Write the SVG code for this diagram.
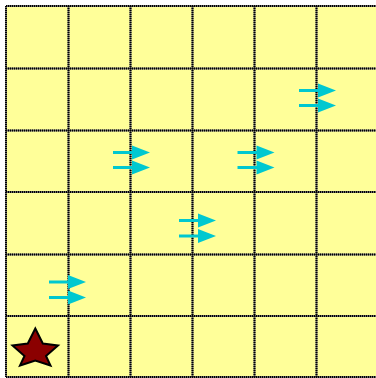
<svg xmlns="http://www.w3.org/2000/svg" xmlns:xlink="http://www.w3.org/1999/xlink" width="376" height="378" viewBox="0 0 376 378">
<style>
.grid{stroke:#6a6a6a;stroke-width:2}
.grid2{stroke:#000;stroke-width:2;stroke-dasharray:1 1}
.shaft{stroke:#00c8d0;stroke-width:3}
.head{fill:#00c8d0}
</style>
<defs>
<g id="arr"><line class="shaft" x1="-17" y1="0" x2="4" y2="0"/><polygon class="head" points="2,-7 20,0 2,7"/></g>
<g id="lines">
<line x1="6" y1="6" x2="6" y2="377"/>
<line x1="68.5" y1="6" x2="68.5" y2="377"/>
<line x1="130.5" y1="6" x2="130.5" y2="377"/>
<line x1="192.5" y1="6" x2="192.5" y2="377"/>
<line x1="254.5" y1="6" x2="254.5" y2="377"/>
<line x1="316.5" y1="6" x2="316.5" y2="377"/>
<line x1="6" y1="6" x2="378" y2="6"/>
<line x1="6" y1="68.5" x2="378" y2="68.5"/>
<line x1="6" y1="130.5" x2="378" y2="130.5"/>
<line x1="6" y1="192" x2="378" y2="192"/>
<line x1="6" y1="254.5" x2="378" y2="254.5"/>
<line x1="6" y1="316" x2="378" y2="316"/>
<line x1="6" y1="377" x2="378" y2="377"/>
</g>
</defs>
<rect width="376" height="378" fill="#ffffff"/>
<g id="board">
<rect x="6" y="6" width="372" height="371" fill="#ffff99"/>
<use class="grid" xlink:href="#lines" href="#lines"/>
<use class="grid2" xlink:href="#lines" href="#lines"/>
</g>
<g id="arrows1"><use xlink:href="#arr" href="#arr" x="316" y="90.5"/><use xlink:href="#arr" href="#arr" x="316" y="105.5"/></g>
<g id="arrows2"><use xlink:href="#arr" href="#arr" x="130" y="152.5"/><use xlink:href="#arr" href="#arr" x="130" y="167.5"/></g>
<g id="arrows3"><use xlink:href="#arr" href="#arr" x="254.5" y="152.5"/><use xlink:href="#arr" href="#arr" x="254.5" y="167.5"/></g>
<g id="arrows4"><use xlink:href="#arr" href="#arr" x="196" y="220.5"/><use xlink:href="#arr" href="#arr" x="196" y="236"/></g>
<g id="arrows5"><use xlink:href="#arr" href="#arr" x="66" y="282"/><use xlink:href="#arr" href="#arr" x="66" y="297.5"/></g>
<g id="star"><polygon points="35.3,328.5 42.8,343.5 58,345.5 46,356 50.5,365.5 35.3,360.5 20,365.5 24.5,356 12.5,345.5 27.8,343.5" fill="#8b0000" stroke="#000" stroke-width="2" stroke-linejoin="miter"/></g>
</svg>
